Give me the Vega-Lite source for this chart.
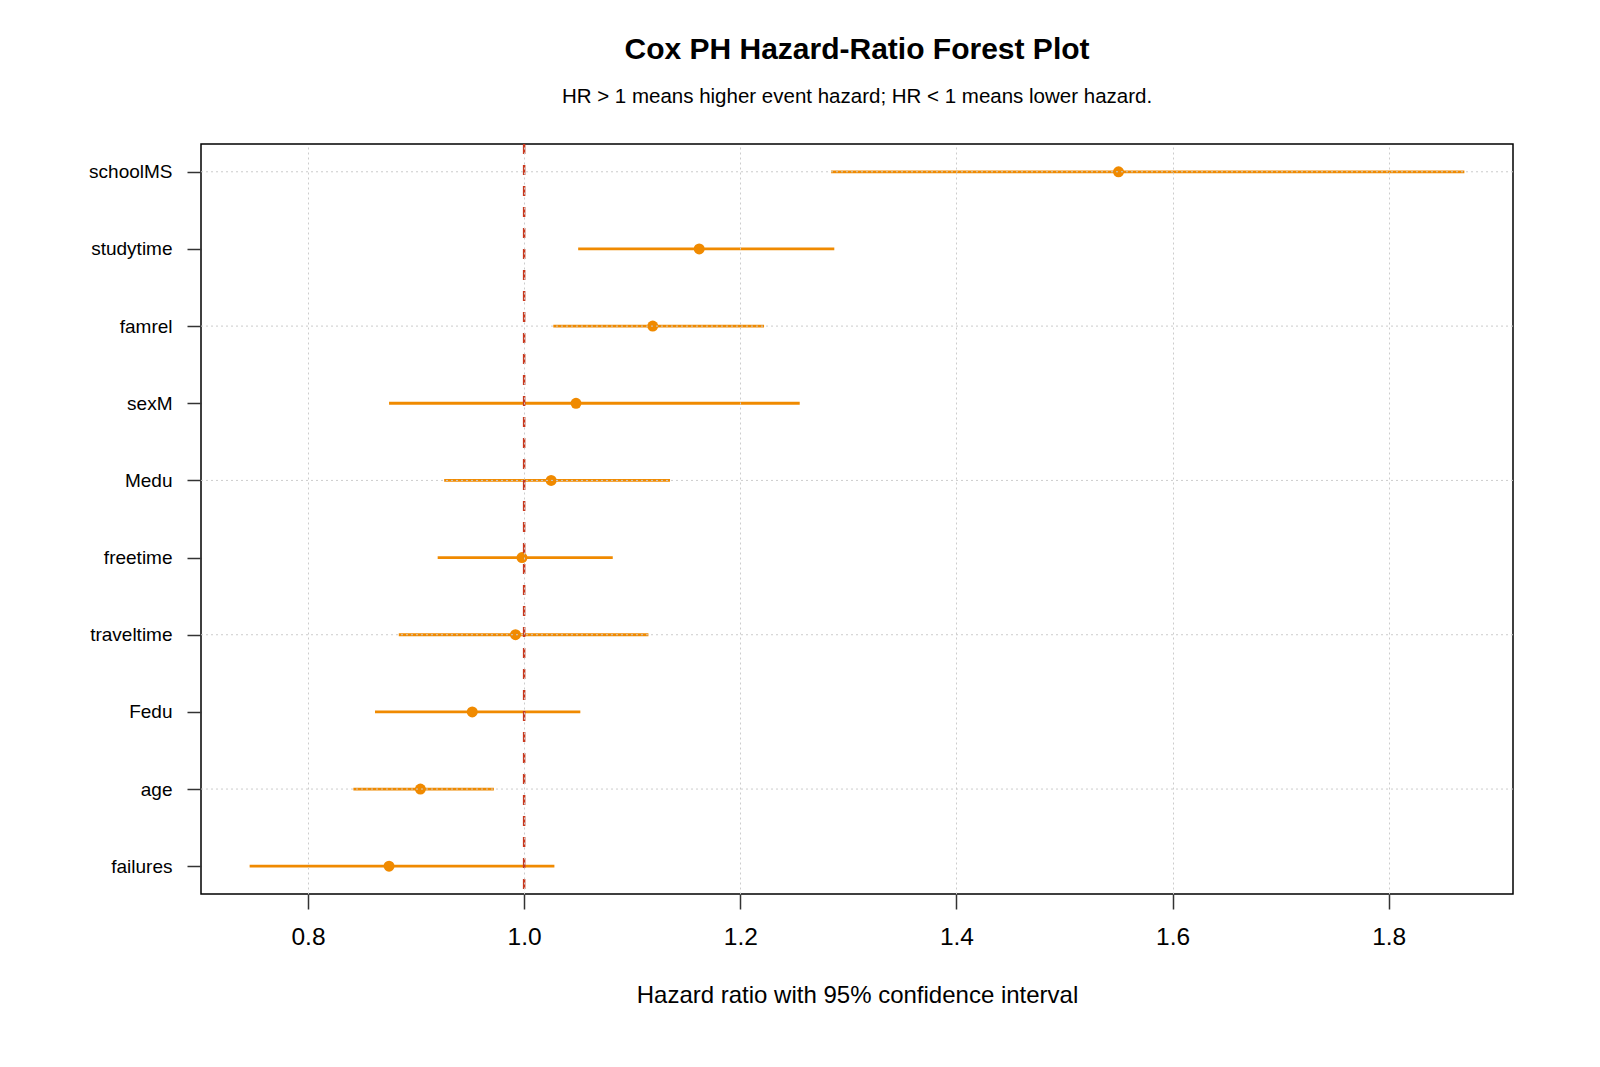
{
  "$schema": "https://vega.github.io/schema/vega-lite/v6.json",
  "width": 1312,
  "height": 750,
  "autosize": {"type": "none"},
  "padding": {"left": 201, "top": 144, "right": 87, "bottom": 173},
  "background": "white",
  "config": {
    "font": "Liberation Sans",
    "view": {"stroke": "#000000", "strokeWidth": 1.5}
  },
  "title": {
    "text": "Cox PH Hazard-Ratio Forest Plot",
    "subtitle": "HR > 1 means higher event hazard; HR < 1 means lower hazard.",
    "anchor": "middle",
    "font": "Liberation Sans",
    "fontSize": 30,
    "fontWeight": "bold",
    "color": "#000000",
    "subtitleFont": "Liberation Sans",
    "subtitleFontSize": 20.5,
    "subtitleColor": "#000000",
    "subtitlePadding": 22,
    "offset": 35
  },
  "data": {
    "values": [
      {"term": "schoolMS", "hr": 1.550, "lower": 1.284, "upper": 1.870},
      {"term": "studytime", "hr": 1.162, "lower": 1.050, "upper": 1.287},
      {"term": "famrel", "hr": 1.119, "lower": 1.027, "upper": 1.222},
      {"term": "sexM", "hr": 1.048, "lower": 0.875, "upper": 1.255},
      {"term": "Medu", "hr": 1.025, "lower": 0.926, "upper": 1.135},
      {"term": "freetime", "hr": 0.998, "lower": 0.920, "upper": 1.082},
      {"term": "traveltime", "hr": 0.992, "lower": 0.884, "upper": 1.115},
      {"term": "Fedu", "hr": 0.952, "lower": 0.862, "upper": 1.052},
      {"term": "age", "hr": 0.904, "lower": 0.842, "upper": 0.972},
      {"term": "failures", "hr": 0.875, "lower": 0.746, "upper": 1.028}
    ]
  },
  "encoding": {
    "y": {
      "field": "term",
      "type": "nominal",
      "sort": ["schoolMS", "studytime", "famrel", "sexM", "Medu", "freetime", "traveltime", "Fedu", "age", "failures"],
      "scale": {"type": "point", "padding": 0.36},
      "axis": {
        "title": null,
        "grid": false,
        "domain": false,
        "ticks": true,
        "tickSize": 14,
        "tickWidth": 1.5,
        "tickColor": "#333333",
        "labelFont": "Liberation Sans",
        "labelFontSize": 19,
        "labelColor": "#000000",
        "labelPadding": 15
      }
    }
  },
  "layer": [
    {
      "mark": {"type": "rule", "color": "#F08A00", "strokeWidth": 2.8},
      "encoding": {
        "x": {
          "field": "lower",
          "type": "quantitative",
          "scale": {"domain": [0.701, 1.915], "nice": false, "zero": false},
          "axis": {
            "title": "Hazard ratio with 95% confidence interval",
            "values": [0.8, 1.0, 1.2, 1.4, 1.6, 1.8],
            "format": ".1f",
            "grid": true,
            "gridColor": "#cccccc",
            "gridDash": [2, 3],
            "gridWidth": 1,
            "domain": false,
            "ticks": true,
            "tickSize": 15,
            "tickWidth": 1.5,
            "tickColor": "#333333",
            "labelFont": "Liberation Sans",
            "labelFontSize": 24.5,
            "labelColor": "#000000",
            "labelPadding": 16,
            "titleFont": "Liberation Sans",
            "titleFontSize": 24,
            "titleFontWeight": "normal",
            "titleColor": "#000000",
            "titlePadding": 35,
            "zindex": 1
          }
        },
        "x2": {"field": "upper"}
      }
    },
    {
      "mark": {"type": "point", "shape": "circle", "filled": true, "color": "#F08A00", "size": 120, "opacity": 1},
      "encoding": {
        "x": {"field": "hr", "type": "quantitative"}
      }
    },
    {
      "data": {"values": [{"ref": 1.0}]},
      "mark": {"type": "rule", "color": "#C8381E", "strokeWidth": 2.5, "strokeDash": [10, 11]},
      "encoding": {
        "x": {"field": "ref", "type": "quantitative"},
        "y": null
      }
    },
    {
      "transform": [
        {"filter": "indexof(['schoolMS','famrel','Medu','traveltime','age'], datum.term) >= 0"}
      ],
      "mark": {"type": "rule", "color": "#cccccc", "strokeWidth": 1, "strokeDash": [2, 3]},
      "encoding": {}
    }
  ]
}
